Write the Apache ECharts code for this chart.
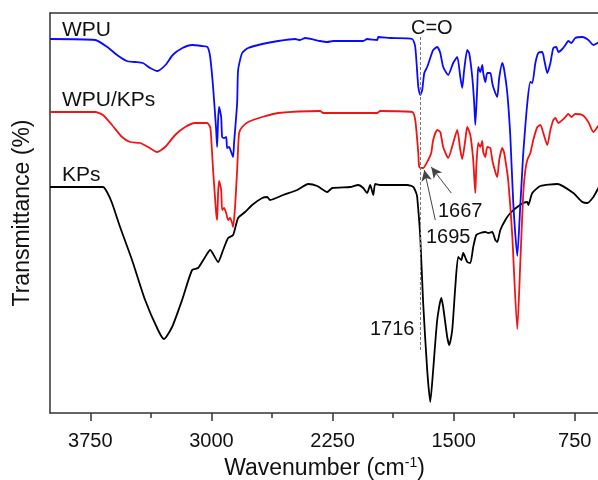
<!DOCTYPE html>
<html><head><meta charset="utf-8">
<script src="https://cdn.jsdelivr.net/npm/echarts@6/dist/echarts.min.js"></script>
<style>html,body{margin:0;padding:0;background:#fff}#c{width:598px;height:480px}</style>
</head><body><div id="c"></div>
<script>
// Wavenumber (cm-1), transmittance (arbitrary, offset) pairs
const wpu = [[4000,93.5],[3720,93.25],[3645,91.5],[3585,89.5],[3525,88],[3475,87.75],[3425,87.5],[3380,86.25],[3335,85.5],[3285,87],[3240,89.5],[3180,91.25],[3120,92],[3060,91.75],[3025,91.5],[3008,89],[2990,81.5],[2971,70.75],[2965,66.5],[2959,73.25],[2953,76.5],[2940,74],[2934,69],[2922,68.75],[2909,69],[2903,66.25],[2891,66.5],[2878,65.25],[2866,64],[2860,67.5],[2841,77.5],[2835,85.75],[2810,90],[2773,91.25],[2686,92.25],[2587,93],[2482,93.5],[2451,93.25],[2420,93.75],[2327,93],[2283,92.75],[2246,93],[2060,93],[2036,93.5],[1974,93.25],[1967,94],[1893,93.75],[1757,93.5],[1738,91.5],[1719,81.5],[1707,79.5],[1695,80.75],[1682,85],[1664,86.5],[1645,88.75],[1627,90.75],[1602,91.5],[1583,90],[1565,86.5],[1534,84.5],[1503,87.5],[1478,89],[1459,84],[1447,81.25],[1435,85.75],[1416,90.75],[1404,90],[1385,84],[1373,77.5],[1366,72],[1354,81.5],[1348,86.5],[1335,85.25],[1323,87],[1317,85],[1304,82.75],[1292,85],[1273,85],[1261,82.5],[1255,81.5],[1242,80],[1230,79],[1218,83.75],[1199,87.5],[1187,85.75],[1168,80],[1149,69],[1131,52.5],[1106,39.25],[1087,52.25],[1075,60.75],[1069,65],[1044,77.5],[1025,82.75],[1013,82.5],[994,87.5],[976,90],[951,90.25],[939,88.25],[920,85],[901,87.5],[883,91.25],[864,91.5],[852,90.25],[827,91],[808,92],[790,93],[771,92.5],[747,93.75],[703,94],[666,93.25],[635,92],[610,92.5],[600,92.75]];

const wpuKps = [[4000,75.25],[3720,75.25],[3672,74.5],[3616,72],[3554,69],[3504,67.75],[3442,67.5],[3393,66.5],[3337,65.25],[3287,66.5],[3225,69.5],[3163,71.5],[3101,72.5],[3027,72.5],[3008,71.5],[3002,69],[2990,60.75],[2971,50],[2965,48.25],[2959,55],[2953,58],[2940,55.75],[2934,50.75],[2922,51.25],[2909,50],[2897,48.25],[2885,48.75],[2872,47.5],[2866,46.5],[2854,51.5],[2841,60.75],[2829,70],[2810,71.5],[2773,72.75],[2686,74],[2587,75],[2327,75.5],[2308,75],[2036,75],[1974,75],[1955,75.5],[1757,75.25],[1738,73.25],[1719,65],[1713,61.5],[1689,61.25],[1658,63.25],[1639,65],[1627,68.25],[1602,70.75],[1583,70.25],[1565,66.5],[1534,63.75],[1503,67.5],[1478,70.75],[1459,65.75],[1447,63.5],[1428,68.25],[1416,71.5],[1397,69.5],[1379,63.25],[1366,55],[1360,61.5],[1348,67.5],[1335,66.5],[1323,68],[1317,65.25],[1304,64],[1292,66.5],[1273,66.25],[1261,63.25],[1242,60.25],[1230,59],[1218,63.25],[1199,66.25],[1187,65],[1168,60],[1162,58],[1149,51.5],[1137,44.25],[1106,21],[1087,38],[1069,55],[1056,60.75],[1044,63.25],[1025,65],[1007,68.25],[982,71.5],[963,72],[945,70],[920,67],[901,70.75],[883,73.25],[870,73.75],[852,72.5],[827,73.25],[808,74],[790,74.75],[771,74],[747,74.75],[703,74.5],[666,72.75],[635,70.25],[610,71.5],[600,72]];

const kps = [[4000,56.5],[3672,56.5],[3647,55.25],[3616,52.5],[3566,46.5],[3492,38.25],[3411,28.25],[3331,20.75],[3294,18.5],[3244,21.5],[3182,28.25],[3120,35.75],[3083,36.25],[3039,39],[3008,40.75],[2959,37.75],[2928,40.75],[2897,43.75],[2866,44.5],[2835,48.75],[2792,50.25],[2748,52],[2686,53.75],[2655,54],[2637,53.25],[2556,54.5],[2469,55.75],[2401,57.25],[2345,56.75],[2283,55.25],[2252,56.25],[2141,56.5],[2091,57],[2060,56.25],[2036,55],[2017,57],[1998,54.5],[1986,57.25],[1955,57],[1788,57],[1750,56.5],[1732,55],[1726,54],[1707,44],[1689,27.5],[1664,10.75],[1645,2.75],[1627,10.75],[1602,23.25],[1577,28.75],[1565,26.5],[1540,19],[1527,17],[1509,20.75],[1490,31.5],[1472,39],[1453,38.25],[1441,40],[1416,37.75],[1397,37.5],[1379,41.5],[1360,44.5],[1335,45],[1304,45.25],[1286,45],[1261,45.25],[1242,43.25],[1230,42.75],[1211,45.75],[1180,48.25],[1149,50],[1106,51.5],[1069,52.5],[1044,52.75],[1038,52],[1013,55],[963,56.75],[858,57.25],[759,55],[703,52.75],[672,52.5],[635,54],[604,56.25],[600,56.5]];

const majorTicks = [3750, 3000, 2250, 1500, 750];
const minorTicks = [3375, 2625, 1875, 1125];
const seriesNames = ['WPU', 'WPU/KPs', 'KPs'];
const seriesColors = ['#0a0aff', '#f01414', '#000000'];
const carbonylLine = [[1710, 94], [1710, 15.25]];
const arrow1695 = [[1614, 48.25], [1682, 60.75]];
const arrow1667 = [[1515, 55], [1639, 61.5]];

const FONT = '"Liberation Sans", Arial, sans-serif';
const chart = echarts.init(document.getElementById('c'), null, {renderer: 'canvas'});

function txt(text, x, y, size) {
  return {type: 'text', x: x, y: y, z: 100,
    style: {text: text, font: size + 'px ' + FONT, fill: '#111', verticalAlign: 'middle', align: 'left'}};
}

const axisCommon = {type: 'value', min: 600, max: 4000, inverse: true, gridIndex: 0};

chart.setOption({
  animation: false,
  backgroundColor: '#fff',
  grid: {left: 50, right: -1, top: 13, bottom: 67, containLabel: false, outerBoundsMode: 'none'},
  xAxis: [
    Object.assign({}, axisCommon, {
      position: 'bottom',
      name: 'Wavenumber (cm{sup|-1})',
      nameLocation: 'middle', nameGap: 42,
      nameTextStyle: {fontSize: 23, fontFamily: FONT, color: '#111', lineHeight: 26,
        rich: {sup: {fontSize: 14, fontFamily: FONT, color: '#111', verticalAlign: 'top', lineHeight: 26, padding: [0, 0, 8, 0]}}},
      axisLine: {show: true, lineStyle: {color: '#333', width: 1.5}},
      axisTick: {show: true, length: 8, lineStyle: {color: '#333', width: 1.5}, customValues: majorTicks},
      axisLabel: {show: true, customValues: majorTicks, margin: 18, fontSize: 20, fontFamily: FONT, color: '#111',
        formatter: function (v) { return String(v); }},
      splitLine: {show: false}
    }),
    Object.assign({}, axisCommon, {
      position: 'bottom',
      axisLine: {show: false},
      axisTick: {show: true, length: 5, lineStyle: {color: '#333', width: 1.5}, customValues: minorTicks},
      axisLabel: {show: false, customValues: minorTicks},
      splitLine: {show: false}
    }),
    Object.assign({}, axisCommon, {
      position: 'top',
      axisLine: {show: true, lineStyle: {color: '#333', width: 1.5}},
      axisTick: {show: false}, axisLabel: {show: false}, splitLine: {show: false}
    })
  ],
  yAxis: {
    type: 'value', min: 0, max: 100,
    name: 'Transmittance (%)', nameLocation: 'middle', nameGap: 16,
    nameTextStyle: {fontSize: 23, fontFamily: FONT, color: '#111'},
    axisLine: {show: true, lineStyle: {color: '#333', width: 1.5}},
    axisTick: {show: false}, axisLabel: {show: false}, splitLine: {show: false}
  },
  series: [
    {name: seriesNames[2], type: 'line', data: kps, showSymbol: false, smooth: 0.2, z: 2,
      lineStyle: {color: seriesColors[2], width: 1.8}, itemStyle: {color: seriesColors[2]},
      markLine: {silent: true, symbol: ['none', 'none'], label: {show: false},
        lineStyle: {type: [3, 2], color: '#777', width: 1},
        data: [[{coord: carbonylLine[0]}, {coord: carbonylLine[1]}]]}},
    {name: seriesNames[1], type: 'line', data: wpuKps, showSymbol: false, smooth: 0.2, z: 3,
      lineStyle: {color: seriesColors[1], width: 1.8}, itemStyle: {color: seriesColors[1]},
      markLine: {silent: true, symbol: ['none', 'arrow'], symbolSize: [8, 11], label: {show: false},
        lineStyle: {type: 'solid', color: '#444', width: 1},
        data: [[{coord: arrow1695[0]}, {coord: arrow1695[1]}], [{coord: arrow1667[0]}, {coord: arrow1667[1]}]]}},
    {name: seriesNames[0], type: 'line', data: wpu, showSymbol: false, smooth: 0.2, z: 4,
      lineStyle: {color: seriesColors[0], width: 1.8}, itemStyle: {color: seriesColors[0]}}
  ],
  graphic: [
    txt('WPU', 62, 30, 21),
    txt('WPU/KPs', 62, 100, 21),
    txt('KPs', 62, 175, 21),
    txt('C=O', 411, 28, 20),
    txt('1667', 438, 211, 20),
    txt('1695', 426, 237, 20),
    txt('1716', 370, 329, 20)
  ]
});
</script></body></html>
